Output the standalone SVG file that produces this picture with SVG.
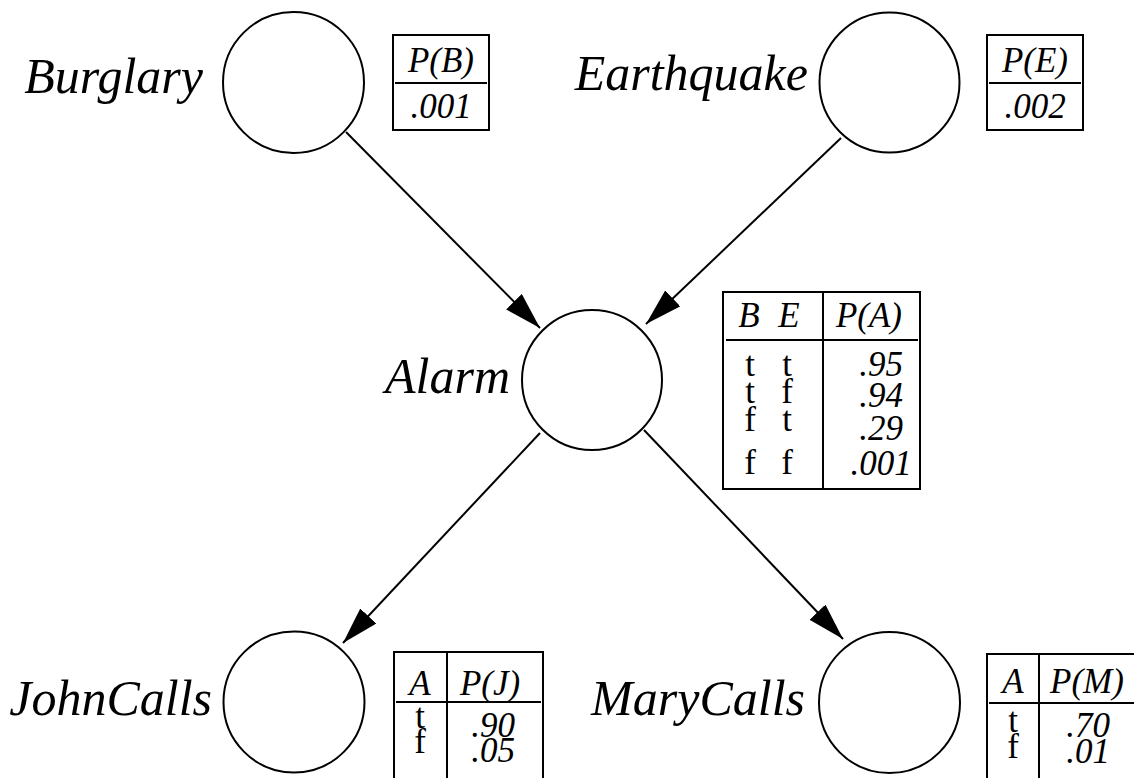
<svg xmlns="http://www.w3.org/2000/svg" width="1134" height="778" viewBox="0 0 1134 778">
<defs>
<style>
.node{fill:#fff;stroke:#000;stroke-width:2}
.lbl{font-family:"Liberation Serif","Times New Roman",serif;font-style:italic;font-size:50px;fill:#000;text-anchor:end}
.box{fill:#fff;stroke:#000;stroke-width:2}
.rule{stroke:#000;stroke-width:2}
.it{font-family:"Liberation Serif","Times New Roman",serif;font-style:italic;font-size:35px;fill:#000;text-anchor:middle}
.rm{font-family:"Liberation Serif","Times New Roman",serif;font-style:normal;font-size:35px;fill:#000;text-anchor:middle}
.edge{stroke:#000;stroke-width:2;fill:none;marker-end:url(#ah)}
</style>
<marker id="ah" markerUnits="userSpaceOnUse" markerWidth="42" markerHeight="24" refX="37" refY="11" orient="auto">
<path d="M0,0 L37,11 L0,22 z" fill="#000"/>
</marker>
</defs>
<rect width="1134" height="778" fill="#fff"/>
<g id="connectors">
<line class="edge" x1="346" y1="132" x2="540" y2="328"/>
<line class="edge" x1="841" y1="138" x2="646" y2="324"/>
<line class="edge" x1="540" y1="433" x2="343" y2="643"/>
<line class="edge" x1="644" y1="430" x2="843" y2="639"/>
</g>
<g id="burglary">
<circle class="node" cx="293.5" cy="82.5" r="70.5"/>
<text class="lbl" x="203" y="93">Burglary</text>
</g>
<g id="earthquake">
<circle class="node" cx="889.5" cy="82.5" r="70"/>
<text class="lbl" x="808" y="90">Earthquake</text>
</g>
<g id="alarm">
<circle class="node" cx="592" cy="380" r="70"/>
<text class="lbl" x="510" y="393">Alarm</text>
</g>
<g id="johncalls">
<circle class="node" cx="294" cy="702" r="70.5"/>
<text class="lbl" x="212" y="715">JohnCalls</text>
</g>
<g id="marycalls">
<circle class="node" cx="889.5" cy="702.5" r="70.5"/>
<text class="lbl" x="805" y="715">MaryCalls</text>
</g>
<g id="table-b">
<rect class="box" x="393" y="35" width="96" height="95"/>
<line class="rule" x1="395" y1="83" x2="487" y2="83"/>
<text class="it" x="441" y="72">P(B)</text>
<text class="it" x="441" y="118">.001</text>
</g>
<g id="table-e">
<rect class="box" x="987" y="35" width="96" height="95"/>
<line class="rule" x1="989" y1="83" x2="1081" y2="83"/>
<text class="it" x="1035" y="72">P(E)</text>
<text class="it" x="1035" y="118">.002</text>
</g>
<g id="table-a">
<rect class="box" x="723" y="292" width="197" height="197"/>
<line class="rule" x1="823" y1="292" x2="823" y2="489"/>
<line class="rule" x1="726" y1="340" x2="918" y2="340"/>
<text class="it"><tspan x="749" y="327">B</tspan><tspan class="rm" x="750" y="376">t</tspan><tspan class="rm" x="750" y="403">t</tspan><tspan class="rm" x="750" y="431">f</tspan><tspan class="rm" x="750" y="474">f</tspan></text>
<text class="it"><tspan x="789" y="327">E</tspan><tspan class="rm" x="787" y="376">t</tspan><tspan class="rm" x="787" y="403">f</tspan><tspan class="rm" x="787" y="431">t</tspan><tspan class="rm" x="787" y="474">f</tspan></text>
<text class="it"><tspan x="869" y="327">P(A)</tspan><tspan x="881" y="376">.95</tspan><tspan x="881" y="407">.94</tspan><tspan x="881" y="440">.29</tspan><tspan x="881" y="475">.001</tspan></text>
</g>
<g id="table-j">
<rect class="box" x="394" y="652" width="149" height="140"/>
<line class="rule" x1="447" y1="652" x2="447" y2="792"/>
<line class="rule" x1="396" y1="702" x2="541" y2="702"/>
<text class="it"><tspan x="420" y="695">A</tspan><tspan class="rm" x="420" y="728">t</tspan><tspan class="rm" x="420" y="753">f</tspan></text>
<text class="it"><tspan x="490" y="695">P(J)</tspan><tspan x="493" y="737">.90</tspan><tspan x="493" y="762">.05</tspan></text>
</g>
<g id="table-m">
<rect class="box" x="987" y="654" width="160" height="140"/>
<line class="rule" x1="1039" y1="654" x2="1039" y2="794"/>
<line class="rule" x1="989" y1="703" x2="1145" y2="703"/>
<text class="it"><tspan x="1013" y="693">A</tspan><tspan class="rm" x="1013" y="732">t</tspan><tspan class="rm" x="1013" y="758">f</tspan></text>
<text class="it"><tspan x="1087" y="693">P(M)</tspan><tspan x="1088" y="737">.70</tspan><tspan x="1088" y="763">.01</tspan></text>
</g>
</svg>
